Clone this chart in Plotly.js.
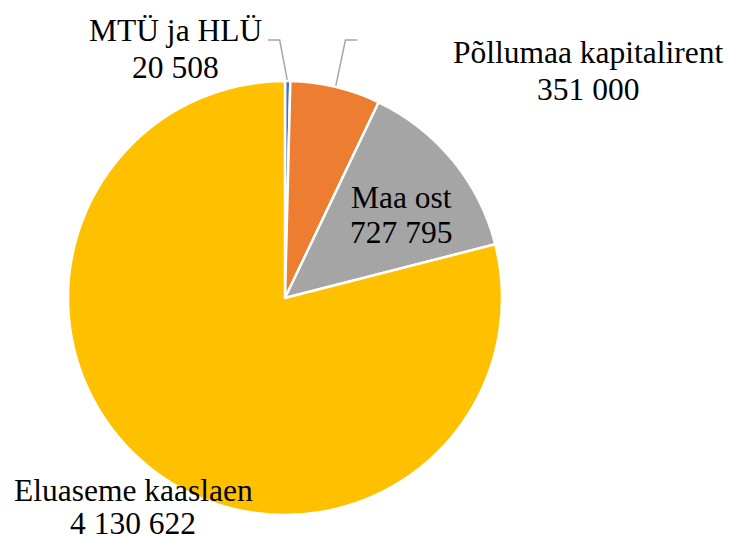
<!DOCTYPE html>
<html>
<head>
<meta charset="utf-8">
<script src="https://cdn.plot.ly/plotly-3.0.1.min.js"></script>
<style>html,body{margin:0;padding:0;background:#fff;}#chart{width:729px;height:537px;}</style>
</head>
<body>
<div id="chart"></div>
<script>
var categories = ["MTÜ ja HLÜ", "Põllumaa kapitalirent", "Maa ost", "Eluaseme kaaslaen"];
var values = [20508, 351000, 727795, 4130622];
var valueLabels = ["20 508", "351 000", "727 795", "4 130 622"];
var colors = ["#4472C4", "#ED7D31", "#A5A5A5", "#FFC000"];

(function () {
  var W = 729, H = 537;
  var cx = 285, cy = 298, R = 217;
  function toX(x) { return x / W; }
  function toY(y) { return 1 - y / H; }

  var labelPos = [
    {x: 175, y: 40, gap: 37},
    {x: 588, y: 62, gap: 38},
    {x: 401, y: 207, gap: 36},
    {x: 133, y: 500, gap: 33}
  ];
  var elbows = [
    {y: 40, dx: -8, hx: -12},
    {y: 40, dx: 10, hx: 12},
    null,
    null
  ];

  var total = values.reduce(function (a, b) { return a + b; }, 0);
  var annotations = [];
  var traces = [];
  var cum = 0;
  values.forEach(function (v, i) {
    var mid = (cum + v / 2) / total * 2 * Math.PI;
    cum += v;
    var lp = labelPos[i];
    [categories[i], valueLabels[i]].forEach(function (t, k) {
      annotations.push({
        text: '<span style="font-family:Liberation Serif">' + t + '</span>',
        showarrow: false, xref: 'paper', yref: 'paper',
        x: toX(lp.x), y: toY(lp.y + k * lp.gap - 10),
        xanchor: 'center', yanchor: 'middle',
        font: {family: 'Times New Roman, Liberation Serif, serif', size: 31.5, color: '#000000'}
      });
    });
    var e = elbows[i];
    if (e) {
      var ex = cx + (R - 1) * Math.sin(mid);
      var ey = cy - (R - 1) * Math.cos(mid);
      var kx = ex + e.dx;
      traces.push({
        type: 'scatter', mode: 'lines', hoverinfo: 'skip',
        x: [ex, kx, kx + e.hx], y: [ey, e.y, e.y],
        line: {color: '#A6A6A6', width: 1.5}
      });
    }
  });

  traces.unshift({
    type: 'pie',
    labels: categories,
    values: values,
    sort: false,
    direction: 'clockwise',
    rotation: 0,
    textinfo: 'none',
    marker: {colors: colors, line: {color: '#ffffff', width: 2.5}},
    domain: {x: [toX(cx - R), toX(cx + R)], y: [toY(cy + R), toY(cy - R)]}
  });

  Plotly.newPlot('chart', traces, {
    width: W, height: H,
    margin: {l: 0, r: 0, t: 0, b: 0},
    showlegend: false,
    font: {family: 'Times New Roman, Liberation Serif, serif'},
    xaxis: {visible: false, range: [0, W], fixedrange: true},
    yaxis: {visible: false, range: [H, 0], fixedrange: true},
    plot_bgcolor: 'rgba(0,0,0,0)',
    annotations: annotations
  }, {staticPlot: true});
})();
</script>
</body>
</html>
